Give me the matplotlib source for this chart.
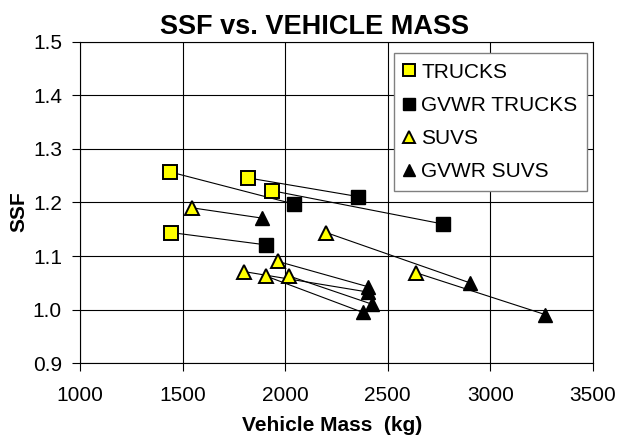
import matplotlib
matplotlib.use("Agg")
import matplotlib.pyplot as plt

# data (kg, SSF); pairs are joined by a line
truck_mass = [1439, 1817, 1936, 1443]
truck_ssf = [1.257, 1.246, 1.222, 1.144]
gvwr_truck_mass = [2044, 2356, 2767, 1905]
gvwr_truck_ssf = [1.197, 1.211, 1.160, 1.121]

suv_mass = [1547, 2199, 2637, 1965, 1801, 2018, 1905]
suv_ssf = [1.190, 1.144, 1.069, 1.090, 1.071, 1.063, 1.063]
gvwr_suv_mass = [1885, 2901, 3266, 2402, 2402, 2425, 2378]
gvwr_suv_ssf = [1.171, 1.050, 0.991, 1.043, 1.033, 1.010, 0.995]

x_ticks = [1000, 1500, 2000, 2500, 3000, 3500]
y_ticks = [0.9, 1.0, 1.1, 1.2, 1.3, 1.4, 1.5]

plt.rcParams["font.family"] = ["Liberation Sans", "DejaVu Sans"]

fig = plt.figure(figsize=(6.34, 4.36), dpi=100)
ax = fig.add_axes([80 / 634, 1 - 363.3 / 436, 513 / 634, 321.6 / 436])

# connecting lines
for x0, y0, x1, y1 in zip(truck_mass, truck_ssf, gvwr_truck_mass, gvwr_truck_ssf):
    ax.plot([x0, x1], [y0, y1], color="black", lw=0.8, zorder=2)
for x0, y0, x1, y1 in zip(suv_mass, suv_ssf, gvwr_suv_mass, gvwr_suv_ssf):
    ax.plot([x0, x1], [y0, y1], color="black", lw=0.8, zorder=2)

ax.plot(truck_mass, truck_ssf, "s", ms=9.6, mfc="#FFFF00", mec="black", mew=1.4,
        ls="none", zorder=3, label="TRUCKS")
ax.plot(gvwr_truck_mass, gvwr_truck_ssf, "s", ms=10, mfc="black", mec="black",
        ls="none", zorder=3, label="GVWR TRUCKS")
ax.plot(suv_mass, suv_ssf, "^", ms=9.5, mfc="#FFFF00", mec="black", mew=1.4,
        ls="none", zorder=3, label="SUVS")
ax.plot(gvwr_suv_mass, gvwr_suv_ssf, "^", ms=10.5, mfc="black", mec="black",
        ls="none", zorder=3, label="GVWR SUVS")

ax.set_xlim(1000, 3500)
ax.set_ylim(0.9, 1.5)
ax.set_xticks(x_ticks)
ax.set_yticks(y_ticks)
ax.set_yticklabels(["%.1f" % v for v in y_ticks])
ax.grid(True, color="black", lw=0.8)
ax.set_axisbelow(True)
for s in ax.spines.values():
    s.set_color("black")
    s.set_linewidth(0.8)
ax.tick_params(axis="both", direction="out", length=6, width=0.8, labelsize=15,
               colors="black")
ax.tick_params(axis="x", pad=10)
ax.tick_params(axis="y", pad=7)

ax.set_xlabel("Vehicle Mass  (kg)", fontsize=15, fontweight="bold")
ax.xaxis.set_label_coords((332.5 - 80) / 513, -(431 - 363.3) / 321.6)
ax.xaxis.label.set_va("baseline")
ax.set_ylabel("SSF", fontsize=15, fontweight="bold")
ax.yaxis.set_label_coords((19 - 80) / 513, (363.3 - 212) / 321.6)
ax.yaxis.label.set_va("center")

fig.text(314.5 / 634, 1 - 33.5 / 436, "SSF vs. VEHICLE MASS", ha="center",
         va="baseline", fontsize=19.5, fontweight="bold")

leg = ax.legend(loc="upper right", bbox_to_anchor=((586.7 - 80) / 513, (363.3 - 53.3) / 321.6),
                borderaxespad=0, fontsize=15, markerscale=0.85, handlelength=0.55,
                handletextpad=0.3, labelspacing=0.68, borderpad=0.45, fancybox=False,
                framealpha=1, edgecolor="#808080")
leg.get_frame().set_linewidth(1.0)

fig.savefig("out.png", dpi=100)
